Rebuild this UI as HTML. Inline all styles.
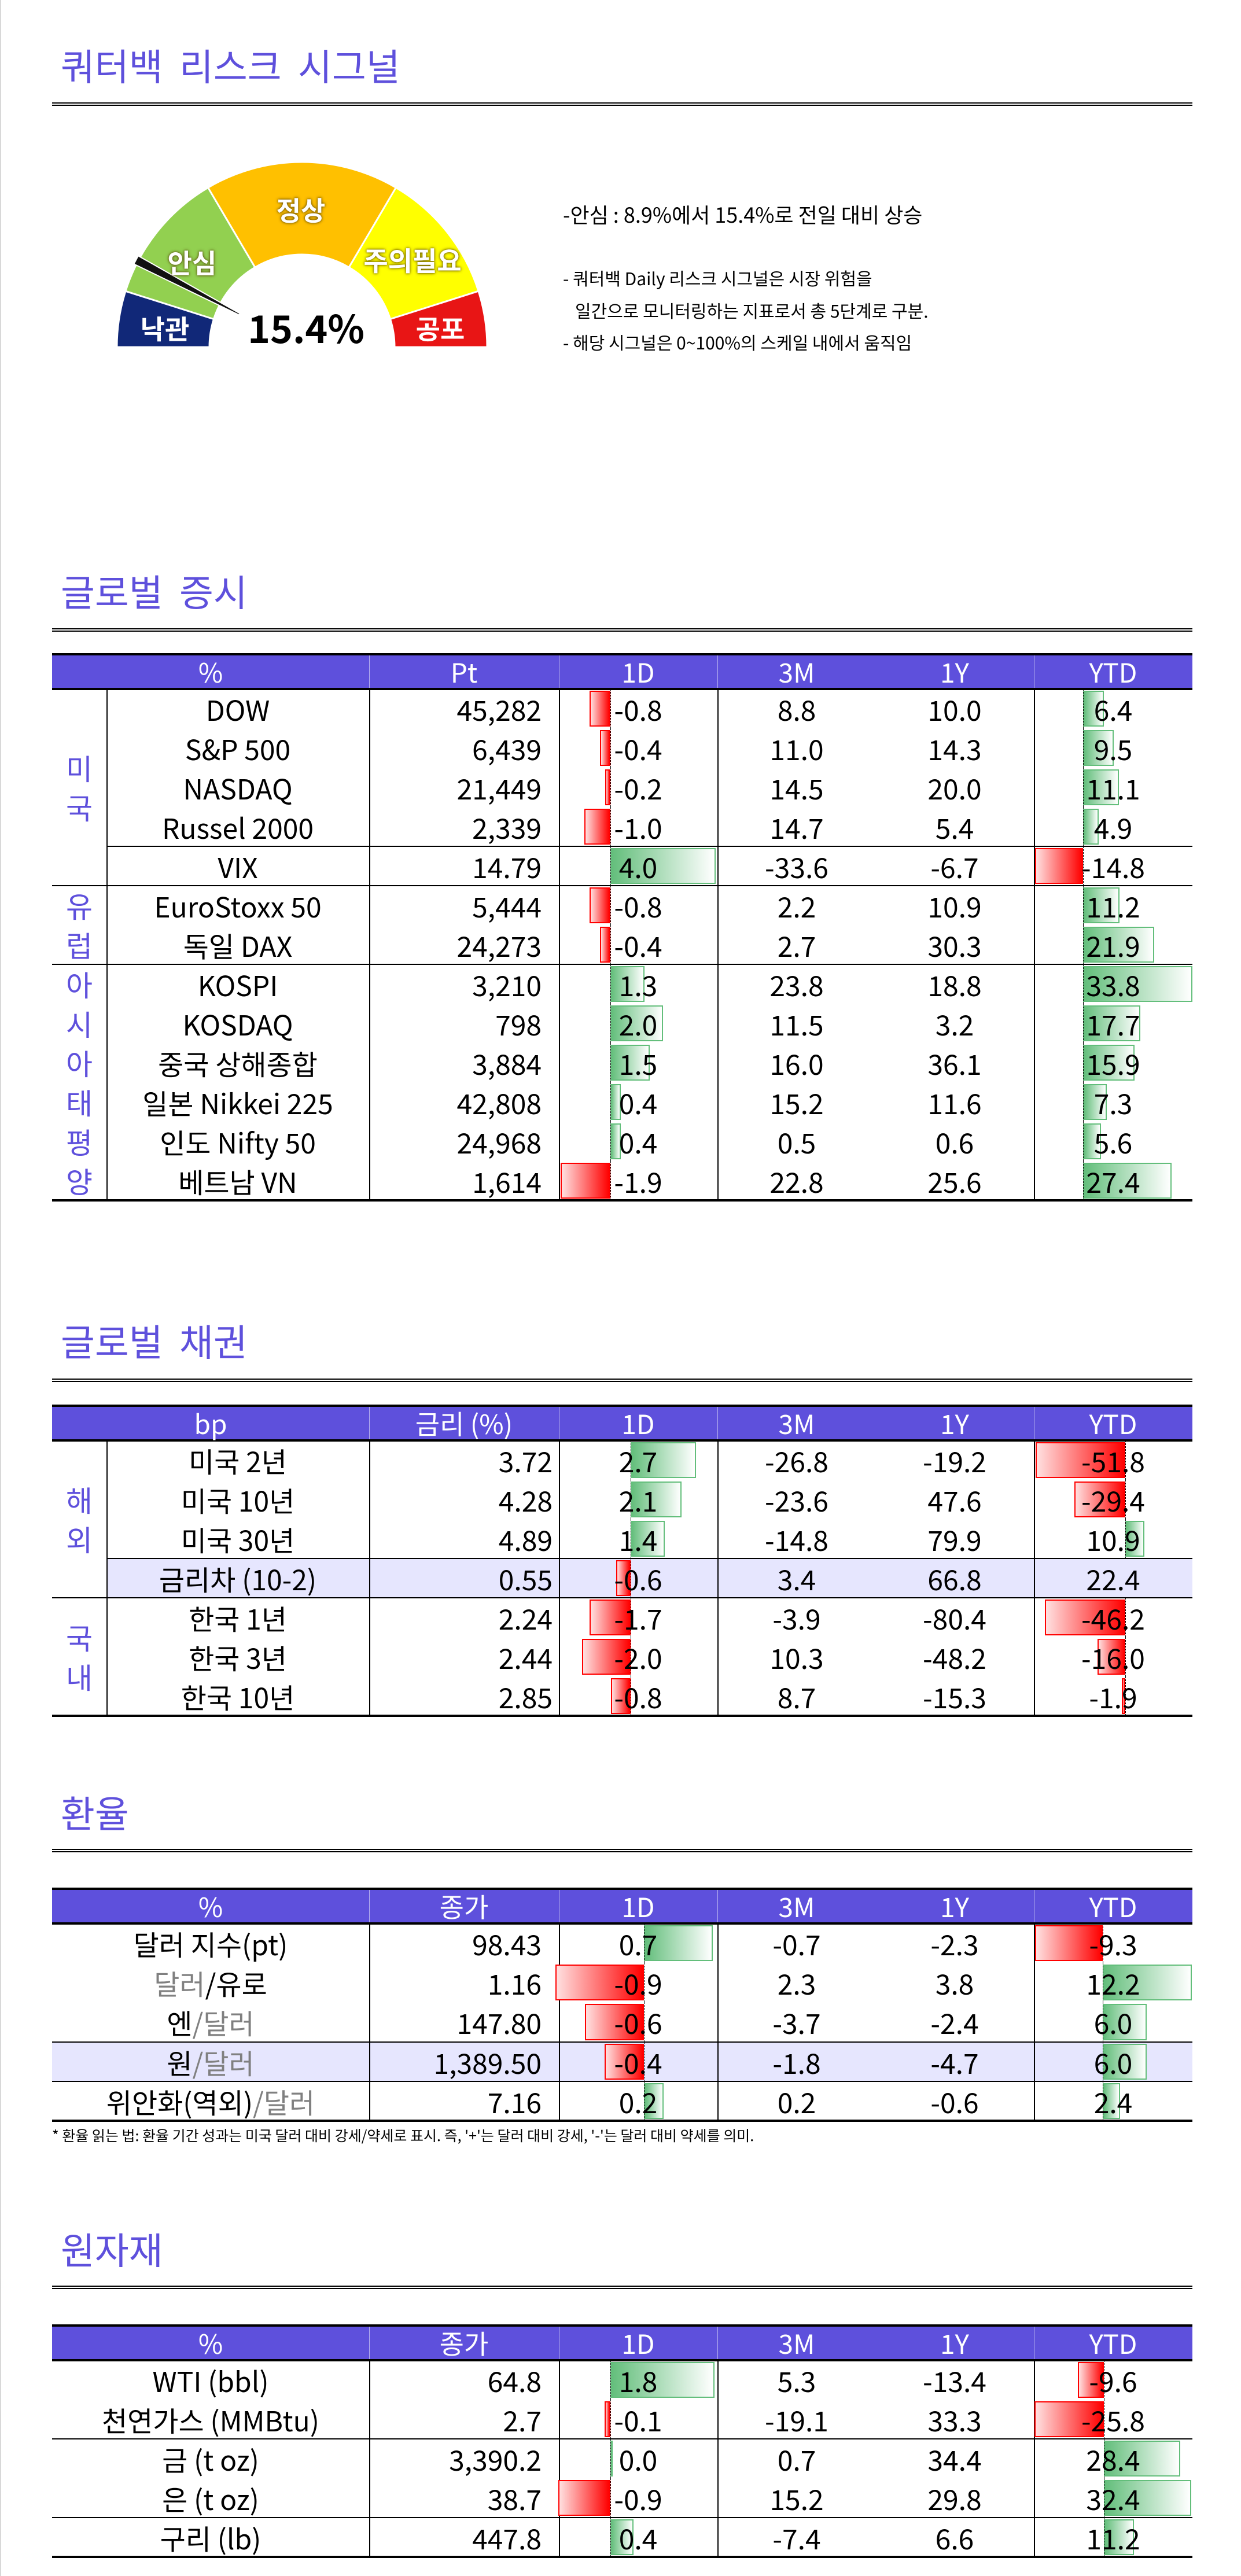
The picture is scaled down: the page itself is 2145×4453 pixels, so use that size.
<!DOCTYPE html>
<html><head><meta charset="utf-8">
<style>
html,body{margin:0;padding:0}
body{width:2145px;height:4453px;position:relative;background:#fff;overflow:hidden;font-family:"Noto Sans CJK KR","Liberation Sans",sans-serif;color:#000;border-left:2px solid #d8d8d8;box-sizing:border-box}
.abs{position:absolute}
.title{position:absolute;left:103px;height:100px;line-height:100px;font-size:64px;color:#5e50dc;white-space:nowrap;word-spacing:14px}
.dline{position:absolute;left:88px;width:1971px;height:2px;border-top:2px solid #000;border-bottom:2px solid #000}
.glabel{position:absolute;color:#fff;font-weight:bold;font-size:46px;white-space:nowrap;transform:translate(-50%,-50%);text-shadow:0 0 6px rgba(80,60,0,.8),0 0 3px rgba(80,60,0,.6)}
.note{position:absolute;left:971px;white-space:nowrap}
.cell{position:absolute;white-space:nowrap;font-size:48px;line-height:68px}
.hdr{position:absolute;background:#5e50dc;border-top:4px solid #000;border-bottom:4px solid #000;box-sizing:border-box}
.vl{position:absolute;width:1px;background:#000}
.hl{position:absolute;height:2px;background:#000}
.grey{color:#808080}
</style></head>
<body>
<div class="title" style="top:62px">쿼터백 리스크 시그널</div>
<div class="dline" style="top:177px"></div>

<svg class="abs" style="left:0;top:0" width="900" height="650" id="gauge"></svg>
<div class="glabel" style="left:518px;top:362px">정상</div>
<div class="glabel" style="left:330px;top:453px">안심</div>
<div class="glabel" style="left:711px;top:449px">주의필요</div>
<div class="glabel" style="left:283px;top:567px;text-shadow:none">낙관</div>
<div class="glabel" style="left:759px;top:567px;text-shadow:none">공포</div>
<div class="abs" style="left:527px;top:565px;transform:translate(-50%,-50%);font-weight:bold;font-size:66px;white-space:nowrap">15.4%</div>

<div class="note" style="top:346px;font-size:36px;line-height:48px">-안심 : 8.9%에서 15.4%로 전일 대비 상승</div>
<div class="note" style="top:460px;font-size:30px;line-height:40px">- 쿼터백 Daily 리스크 시그널은 시장 위험을</div>
<div class="note" style="top:516px;font-size:30px;line-height:40px;left:992px">일간으로 모니터링하는 지표로서 총 5단계로 구분.</div>
<div class="note" style="top:571px;font-size:30px;line-height:40px">- 해당 시그널은 0~100%의 스케일 내에서 움직임</div>

<div class="title" style="top:971px">글로벌 증시</div>
<div class="dline" style="top:1086px"></div>
<div class="title" style="top:2267px">글로벌 채권</div>
<div class="dline" style="top:2383px"></div>
<div class="title" style="top:3082px">환율</div>
<div class="dline" style="top:3196px"></div>
<div class="abs" style="left:88px;top:3675px;font-size:25px;line-height:32px;white-space:nowrap">* 환율 읽는 법: 환율 기간 성과는 미국 달러 대비 강세/약세로 표시. 즉, '+'는 달러 대비 강세, '-'는 달러 대비 약세를 의미.</div>
<div class="title" style="top:3837px">원자재</div>
<div class="dline" style="top:3951px"></div>

<script>
// ---- gauge data ----
const gaugeBounds = [0, 17.6, 59.5, 120.5, 162.4, 180];
const gaugeColors = ['#112878', '#92d050', '#ffc000', '#ffff00', '#e81515'];
const gaugeValue = 15.4;

// ---- equity data ----
const eqNames = ['DOW','S&P 500','NASDAQ','Russel 2000','VIX','EuroStoxx 50','독일 DAX','KOSPI','KOSDAQ','중국 상해종합','일본 Nikkei 225','인도 Nifty 50','베트남 VN'];
const eqLevel = ['45,282','6,439','21,449','2,339','14.79','5,444','24,273','3,210','798','3,884','42,808','24,968','1,614'];
const eq1D = [-0.8,-0.4,-0.2,-1.0,4.0,-0.8,-0.4,1.3,2.0,1.5,0.4,0.4,-1.9];
const eq3M = [8.8,11.0,14.5,14.7,-33.6,2.2,2.7,23.8,11.5,16.0,15.2,0.5,22.8];
const eq1Y = [10.0,14.3,20.0,5.4,-6.7,10.9,30.3,18.8,3.2,36.1,11.6,0.6,25.6];
const eqYTD = [6.4,9.5,11.1,4.9,-14.8,11.2,21.9,33.8,17.7,15.9,7.3,5.6,27.4];

// ---- bond data ----
const bdNames = ['미국 2년','미국 10년','미국 30년','금리차 (10-2)','한국 1년','한국 3년','한국 10년'];
const bdLevel = ['3.72','4.28','4.89','0.55','2.24','2.44','2.85'];
const bd1D = [2.7,2.1,1.4,-0.6,-1.7,-2.0,-0.8];
const bd3M = [-26.8,-23.6,-14.8,3.4,-3.9,10.3,8.7];
const bd1Y = [-19.2,47.6,79.9,66.8,-80.4,-48.2,-15.3];
const bdYTD = [-51.8,-29.4,10.9,22.4,-46.2,-16.0,-1.9];

// ---- fx data ----
const fxNames = ['달러 지수(pt)','<span class="grey">달러</span>/유로','엔<span class="grey">/달러</span>','원<span class="grey">/달러</span>','위안화(역외)<span class="grey">/달러</span>'];
const fxLevel = ['98.43','1.16','147.80','1,389.50','7.16'];
const fx1D = [0.7,-0.9,-0.6,-0.4,0.2];
const fx3M = [-0.7,2.3,-3.7,-1.8,0.2];
const fx1Y = [-2.3,3.8,-2.4,-4.7,-0.6];
const fxYTD = [-9.3,12.2,6.0,6.0,2.4];

// ---- commodity data ----
const cmNames = ['WTI (bbl)','천연가스 (MMBtu)','금 (t oz)','은 (t oz)','구리 (lb)'];
const cmLevel = ['64.8','2.7','3,390.2','38.7','447.8'];
const cm1D = [1.8,-0.1,0.0,-0.9,0.4];
const cm3M = [5.3,-19.1,0.7,15.2,-7.4];
const cm1Y = [-13.4,33.3,34.4,29.8,6.6];
const cmYTD = [-9.6,-25.8,28.4,32.4,11.2];

// ---------- gauge ----------
(function(){
  const svg = document.getElementById('gauge');
  const NS = 'http://www.w3.org/2000/svg';
  const cx = 520, cy = 600, R = 320, r = 160;
  const pt = (rad, deg) => { const a = deg * Math.PI / 180; return [cx - rad * Math.cos(a), cy - rad * Math.sin(a)]; };
  for (let i = 0; i < gaugeColors.length; i++) {
    const a1 = gaugeBounds[i], a2 = gaugeBounds[i + 1];
    const p1 = pt(R, a1), p2 = pt(R, a2), p3 = pt(r, a2), p4 = pt(r, a1);
    const p = document.createElementNS(NS, 'path');
    
    
    p.setAttribute('d', `M${p1} A${R},${R} 0 0 1 ${p2} L${p3} A${r},${r} 0 0 0 ${p4} Z`);
    p.setAttribute('fill', gaugeColors[i]);
    p.setAttribute('stroke', '#fff');
    p.setAttribute('stroke-width', '3');
    svg.appendChild(p);
  }
  const ang = gaugeValue / 100 * 180, a = ang * Math.PI / 180;
  const ux = -Math.cos(a), uy = -Math.sin(a), nx = -uy, ny = ux;
  const o = [cx + ux * 324, cy + uy * 324], inn = [cx + ux * 122, cy + uy * 122];
  const pts = [[o[0] + nx * 8, o[1] + ny * 8], [o[0] - nx * 8, o[1] - ny * 8], [inn[0] - nx * 1.5, inn[1] - ny * 1.5], [inn[0] + nx * 1.5, inn[1] + ny * 1.5]];
  const nd = document.createElementNS(NS, 'polygon');
  
  
  nd.setAttribute('points', pts.map(q => q.join(',')).join(' '));
  nd.setAttribute('fill', '#111');
  nd.setAttribute('stroke', '#fff');
  nd.setAttribute('stroke-width', '2');
  svg.appendChild(nd);
})();

// ---------- tables ----------
const X = {L:88, G:182, N:636, P:964, D:1238, M:1785, R:2059};
const C3M = 1375, C1Y = 1648, C1D = 1101, CYTD = 1922;

function box(name, css, html) {
  const el = document.createElement('div');
  
  
  el.style.cssText = 'position:absolute;' + css;
  if (html !== undefined) el.innerHTML = html;
  document.body.appendChild(el);
  return el;
}
function centered(name, cx, y, h, html, extra) {
  return box(name, `left:${cx - 400}px;width:800px;top:${y}px;height:${h}px;line-height:${h}px;text-align:center;font-size:48px;white-space:nowrap;${extra || ''}`, html);
}
function bar(name, v, zero, unit, y, h) {
  const w = Math.abs(v) * unit;
  const left = v >= 0 ? zero : zero - w;
  const bg = v >= 0 ? 'linear-gradient(to right,#63be7b,#ffffff)' : 'linear-gradient(to left,#ff0000,#ffe0e0)';
  const bc = v >= 0 ? '#63be7b' : '#ff0000';
  box(name, `left:${left}px;top:${y + 3}px;width:${Math.max(w, 1)}px;height:${h - 6}px;background:${bg};border:2px solid ${bc};box-sizing:border-box`);
  box(name + '-axis', `left:${zero}px;top:${y}px;height:${h}px;width:0;border-left:1.5px dashed #000`);
}

function buildTable(t) {
  const H = 62, rh = t.rowH, n = t.names.length;
  const bodyTop = t.top + H, bottom = bodyTop + rh * n;
  // highlight rows
  (t.highlight || []).forEach(i => {
    box('highlight-row', `left:${t.groups ? X.G : X.L}px;top:${bodyTop + i * rh}px;width:${X.R - (t.groups ? X.G : X.L)}px;height:${rh}px;background:#e6e6fe`);
  });
  // header
  box(t.key + '-header', `left:${X.L}px;top:${t.top}px;width:${X.R - X.L}px;height:${H + 2}px;background:#5e50dc;border-top:4px solid #000;border-bottom:4px solid #000;box-sizing:border-box`);
  const hc = [362, 800, C1D, C3M, C1Y, CYTD];
  t.headers.forEach((h, i) => {
    centered(t.key + '-header-label', hc[i], t.top + 2, H - 2, h, 'color:#fff;font-size:46px');
  });
  [X.N, X.P, X.D, X.M].forEach(x => box('header-divider', `left:${x}px;top:${t.top + 4}px;width:1px;height:${H - 6}px;background:rgba(255,255,255,.55)`));
  // body vertical lines
  [X.N, X.P, X.D, X.M].forEach(x => box('column-divider', `left:${x}px;top:${bodyTop}px;width:1.5px;height:${rh * n}px;background:#000`));
  if (t.groups) box('group-divider', `left:${X.G}px;top:${bodyTop}px;width:1.5px;height:${rh * n}px;background:#000`);
  // horizontal separators
  (t.seps || []).forEach(s => {
    const x0 = s.partial ? X.G : X.L;
    box('row-separator', `left:${x0}px;top:${bodyTop + (s.after + 1) * rh - 1}px;width:${X.R - x0}px;height:2px;background:#000`);
  });
  box(t.key + '-bottom-border', `left:${X.L}px;top:${bottom - 2}px;width:${X.R - X.L}px;height:4px;background:#000`);
  // group labels
  (t.groups || []).forEach(g => {
    const chars = g.label.split('');
    const cy = bodyTop + (g.from + g.to + 1) / 2 * rh;
    box('group-label', `left:${X.L}px;width:${X.G - X.L}px;top:${cy - chars.length * rh / 2}px;text-align:center;color:#5e50dc;font-size:50px;line-height:${rh}px`, chars.join('<br>'));
  });
  // rows
  const nameCx = t.groups ? (X.G + X.N) / 2 : (X.L + X.N) / 2;
  for (let i = 0; i < n; i++) {
    const y = bodyTop + i * rh;
    bar(t.key + '-1d-bar', t.d1[i], t.z1, t.u1, y, rh);
    if (!(t.noYtdBar || []).includes(i)) bar(t.key + '-ytd-bar', t.ytd[i], t.zy, t.uy, y, rh);
    centered(t.key + '-name', nameCx, y, rh, t.names[i]);
    box(t.key + '-level', `left:${X.N}px;width:${t.levelRight - X.N}px;top:${y}px;height:${rh}px;line-height:${rh}px;text-align:right;font-size:48px`, t.level[i]);
    centered(t.key + '-1d', C1D, y, rh, t.d1[i].toFixed(1));
    centered(t.key + '-3m', C3M, y, rh, t.m3[i].toFixed(1));
    centered(t.key + '-1y', C1Y, y, rh, t.y1[i].toFixed(1));
    centered(t.key + '-ytd', CYTD, y, rh, t.ytd[i].toFixed(1));
  }
}

buildTable({key:'equity', top:1129, rowH:68.0, headers:['%','Pt','1D','3M','1Y','YTD'],
  names:eqNames, level:eqLevel, d1:eq1D, m3:eq3M, y1:eq1Y, ytd:eqYTD, levelRight:934,
  z1:1053, u1:45.5, zy:1870, uy:5.6,
  groups:[{label:'미국',from:0,to:4},{label:'유럽',from:5,to:6},{label:'아시아태평양',from:7,to:12}],
  seps:[{after:3,partial:true},{after:4},{after:6}]});

buildTable({key:'bond', top:2428, rowH:68.0, headers:['bp','금리 (%)','1D','3M','1Y','YTD'],
  names:bdNames, level:bdLevel, d1:bd1D, m3:bd3M, y1:bd1Y, ytd:bdYTD, levelRight:953,
  z1:1088, u1:42, zy:1943, uy:3.0, highlight:[3], noYtdBar:[3],
  groups:[{label:'해외',from:0,to:3},{label:'국내',from:4,to:6}],
  seps:[{after:2,partial:true},{after:3}]});

buildTable({key:'fx', top:3263, rowH:68.2, headers:['%','종가','1D','3M','1Y','YTD'],
  names:fxNames, level:fxLevel, d1:fx1D, m3:fx3M, y1:fx1Y, ytd:fxYTD, levelRight:934,
  z1:1111, u1:170, zy:1904, uy:12.6, highlight:[3],
  seps:[{after:2},{after:3}]});

buildTable({key:'commodity', top:4018, rowH:68.0, headers:['%','종가','1D','3M','1Y','YTD'],
  names:cmNames, level:cmLevel, d1:cm1D, m3:cm3M, y1:cm1Y, ytd:cmYTD, levelRight:934,
  z1:1053, u1:100, zy:1906, uy:4.65,
  seps:[{after:1},{after:3}]});
</script>
</body></html>
